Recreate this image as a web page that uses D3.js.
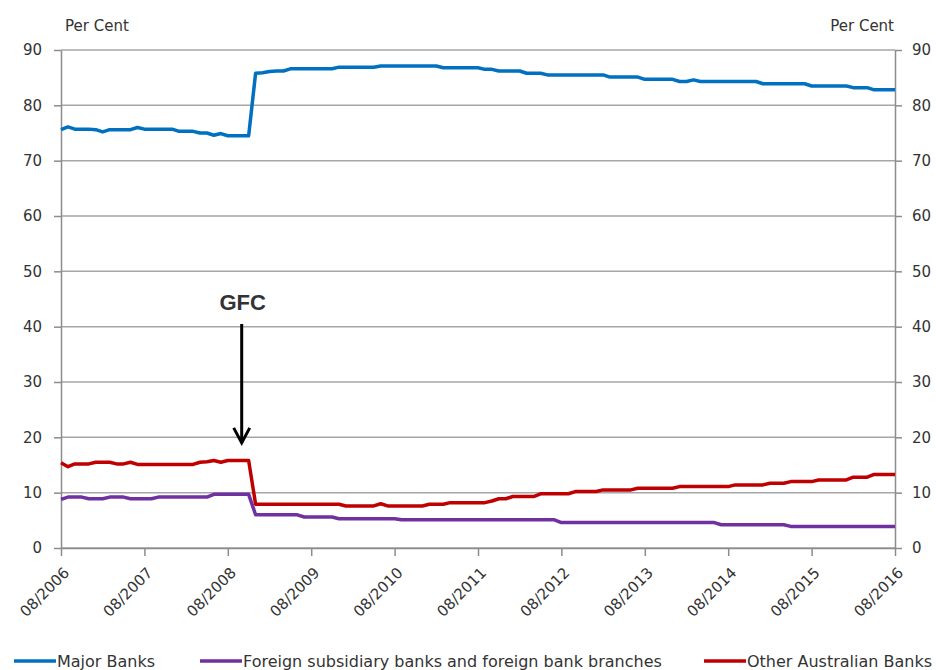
<!DOCTYPE html>
<html>
<head>
<meta charset="utf-8">
<script src="https://cdn.jsdelivr.net/npm/d3@7"></script>
<style>
  body { margin: 0; background: #fff; }
  svg { display: block; }
  text { font-family: "DejaVu Sans", Verdana, sans-serif; fill: #333; }
</style>
</head>
<body>
<div id="chart"></div>
<script>
const w = 936;
const h = 670;
const margin = { top: 50, right: 41, bottom: 122, left: 61 };

// monthly, 08/2006 .. 08/2016 (121 months, index 0..120)
const tickLabels = ['08/2006', '08/2007', '08/2008', '08/2009', '08/2010', '08/2011',
    '08/2012', '08/2013', '08/2014', '08/2015', '08/2016'];
const yTicks = [0, 10, 20, 30, 40, 50, 60, 70, 80, 90];

const majorBanks = [
    75.6, 76.1, 75.7, 75.7, 75.7, 75.6, 75.2, 75.6, 75.6, 75.6,
    75.6, 76.0, 75.7, 75.7, 75.7, 75.7, 75.7, 75.3, 75.3, 75.3,
    75.0, 75.0, 74.6, 74.9, 74.5, 74.5, 74.5, 74.5, 85.8, 85.9,
    86.1, 86.2, 86.2, 86.6, 86.6, 86.6, 86.6, 86.6, 86.6, 86.6,
    86.9, 86.9, 86.9, 86.9, 86.9, 86.9, 87.1, 87.1, 87.1, 87.1,
    87.1, 87.1, 87.1, 87.1, 87.1, 86.8, 86.8, 86.8, 86.8, 86.8,
    86.8, 86.5, 86.5, 86.2, 86.2, 86.2, 86.2, 85.8, 85.8, 85.8,
    85.5, 85.5, 85.5, 85.5, 85.5, 85.5, 85.5, 85.5, 85.5, 85.1,
    85.1, 85.1, 85.1, 85.1, 84.7, 84.7, 84.7, 84.7, 84.7, 84.3,
    84.3, 84.6, 84.3, 84.3, 84.3, 84.3, 84.3, 84.3, 84.3, 84.3,
    84.3, 83.9, 83.9, 83.9, 83.9, 83.9, 83.9, 83.9, 83.5, 83.5,
    83.5, 83.5, 83.5, 83.5, 83.2, 83.2, 83.2, 82.8, 82.8, 82.8,
    82.8
];

const foreignBanks = [
    8.8, 9.2, 9.2, 9.2, 8.9, 8.9, 8.9, 9.2, 9.2, 9.2,
    8.9, 8.9, 8.9, 8.9, 9.2, 9.2, 9.2, 9.2, 9.2, 9.2,
    9.2, 9.2, 9.7, 9.7, 9.7, 9.7, 9.7, 9.7, 6.0, 6.0,
    6.0, 6.0, 6.0, 6.0, 6.0, 5.6, 5.6, 5.6, 5.6, 5.6,
    5.3, 5.3, 5.3, 5.3, 5.3, 5.3, 5.3, 5.3, 5.3, 5.1,
    5.1, 5.1, 5.1, 5.1, 5.1, 5.1, 5.1, 5.1, 5.1, 5.1,
    5.1, 5.1, 5.1, 5.1, 5.1, 5.1, 5.1, 5.1, 5.1, 5.1,
    5.1, 5.1, 4.6, 4.6, 4.6, 4.6, 4.6, 4.6, 4.6, 4.6,
    4.6, 4.6, 4.6, 4.6, 4.6, 4.6, 4.6, 4.6, 4.6, 4.6,
    4.6, 4.6, 4.6, 4.6, 4.6, 4.2, 4.2, 4.2, 4.2, 4.2,
    4.2, 4.2, 4.2, 4.2, 4.2, 3.9, 3.9, 3.9, 3.9, 3.9,
    3.9, 3.9, 3.9, 3.9, 3.9, 3.9, 3.9, 3.9, 3.9, 3.9,
    3.9
];

const otherBanks = [
    15.4, 14.7, 15.2, 15.2, 15.2, 15.5, 15.5, 15.5, 15.2, 15.2,
    15.5, 15.1, 15.1, 15.1, 15.1, 15.1, 15.1, 15.1, 15.1, 15.1,
    15.5, 15.6, 15.8, 15.5, 15.8, 15.8, 15.8, 15.8, 7.9, 7.9,
    7.9, 7.9, 7.9, 7.9, 7.9, 7.9, 7.9, 7.9, 7.9, 7.9,
    7.9, 7.6, 7.6, 7.6, 7.6, 7.6, 8.0, 7.6, 7.6, 7.6,
    7.6, 7.6, 7.6, 7.9, 7.9, 7.9, 8.2, 8.2, 8.2, 8.2,
    8.2, 8.2, 8.5, 8.9, 8.9, 9.3, 9.3, 9.3, 9.3, 9.8,
    9.8, 9.8, 9.8, 9.8, 10.2, 10.2, 10.2, 10.2, 10.5, 10.5,
    10.5, 10.5, 10.5, 10.8, 10.8, 10.8, 10.8, 10.8, 10.8, 11.1,
    11.1, 11.1, 11.1, 11.1, 11.1, 11.1, 11.1, 11.4, 11.4, 11.4,
    11.4, 11.4, 11.7, 11.7, 11.7, 12.0, 12.0, 12.0, 12.0, 12.3,
    12.3, 12.3, 12.3, 12.3, 12.8, 12.8, 12.8, 13.3, 13.3, 13.3,
    13.3
];

const series = [
    { name: 'Major Banks', values: majorBanks, color: '#0070C0' },
    { name: 'Foreign subsidiary banks and foreign bank branches', values: foreignBanks, color: '#7030A0' },
    { name: 'Other Australian Banks', values: otherBanks, color: '#C00000' }
];

const xScale = d3.scaleLinear()
    .domain([0, 120])
    .range([margin.left, w - margin.right]);

const yScale = d3.scaleLinear()
    .domain([0, 90])
    .range([h - margin.bottom, margin.top]);

const svg = d3.select("#chart")
    .append("svg")
    .attr("width", w)
    .attr("height", h);

// gridlines
svg.append("g")
    .selectAll("line")
    .data(yTicks)
    .enter()
    .append("line")
    .attr("x1", margin.left)
    .attr("x2", w - margin.right)
    .attr("y1", d => yScale(d))
    .attr("y2", d => yScale(d))
    .attr("stroke", "#a6a6a6")
    .attr("stroke-width", 1.5);

const styleAxis = g => {
    g.select(".domain").attr("stroke", "#8c8c8c").attr("stroke-width", 1.5);
    g.selectAll(".tick line").attr("stroke", "#8c8c8c").attr("stroke-width", 1.5);
    g.selectAll("text").style("font-family", "DejaVu Sans, sans-serif").attr("fill", "#333");
};

const yLeft = d3.axisLeft(yScale).tickValues(yTicks).tickSize(7).tickSizeOuter(0).tickPadding(12);
svg.append("g")
    .attr("transform", "translate(" + margin.left + ",0)")
    .call(yLeft)
    .call(styleAxis)
    .selectAll("text").style("font-size", "15px");

const yRight = d3.axisRight(yScale).tickValues(yTicks).tickSize(7).tickSizeOuter(0).tickPadding(10);
svg.append("g")
    .attr("transform", "translate(" + (w - margin.right) + ",0)")
    .call(yRight)
    .call(styleAxis)
    .selectAll("text").style("font-size", "15px").attr("text-anchor", "start");

const xAxis = d3.axisBottom(xScale)
    .tickValues(tickLabels.map((t, i) => i * 12))
    .tickFormat((d, i) => tickLabels[i])
    .tickSize(8)
    .tickSizeOuter(0);

svg.append("g")
    .attr("transform", "translate(0," + (h - margin.bottom) + ")")
    .call(xAxis)
    .call(styleAxis)
    .selectAll("text")
    .style("font-size", "15px")
    .attr("text-anchor", "end")
    .attr("y", 0)
    .attr("dy", "0.35em")
    .attr("transform", "translate(5,22) rotate(-45)");

// lines
const line = d3.line()
    .x((d, i) => xScale(i))
    .y(d => yScale(d));

svg.append("g")
    .selectAll("path")
    .data(series)
    .enter()
    .append("path")
    .attr("d", d => line(d.values))
    .attr("fill", "none")
    .attr("stroke", d => d.color)
    .attr("stroke-width", 3.5)
    .attr("stroke-linejoin", "round");

// axis titles
svg.append("text")
    .attr("x", 65)
    .attr("y", 31)
    .style("font-size", "15px")
    .text("Per Cent");

svg.append("text")
    .attr("x", 894)
    .attr("y", 31)
    .attr("text-anchor", "end")
    .style("font-size", "15px")
    .text("Per Cent");

// GFC annotation (10/2008)
const gx = xScale(26);
svg.append("text")
    .attr("x", gx + 1)
    .attr("y", 310)
    .attr("text-anchor", "middle")
    .style("font-family", "Liberation Sans, Arial, sans-serif")
    .style("font-weight", "bold")
    .style("font-size", "22px")
    .attr("fill", "#111")
    .text("GFC");

svg.append("line")
    .attr("x1", gx).attr("x2", gx)
    .attr("y1", 324).attr("y2", yScale(19))
    .attr("stroke", "#000")
    .attr("stroke-width", 3);

svg.append("path")
    .attr("d", "M" + (gx - 8) + "," + (yScale(19) - 15) + "L" + gx + "," + yScale(19) + "L" + (gx + 8) + "," + (yScale(19) - 15))
    .attr("fill", "none")
    .attr("stroke", "#000")
    .attr("stroke-width", 3);

// legend
const legendX = [14, 200, 704];
const legend = svg.append("g")
    .selectAll("g")
    .data(series)
    .enter()
    .append("g")
    .attr("transform", (d, i) => "translate(" + legendX[i] + ",661)");

legend.append("line")
    .attr("x1", 0).attr("x2", 42)
    .attr("stroke", d => d.color)
    .attr("stroke-width", 3.5);

legend.append("text")
    .attr("x", 43)
    .attr("y", 6)
    .style("font-size", "16px")
    .text(d => d.name);
</script>
</body>
</html>
